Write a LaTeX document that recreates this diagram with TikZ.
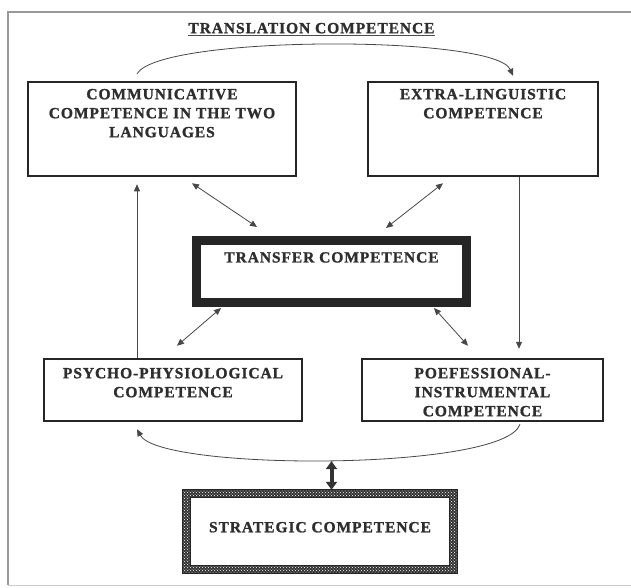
\documentclass[tikz,border=0pt]{standalone}
\usepackage{fontspec}
\newfontfamily\diagfont{Liberation Serif Bold}[LetterSpace=6, FakeBold=1.2]
\usetikzlibrary{arrows.meta,patterns}
\begin{document}
\begin{tikzpicture}[x=1pt,y=-1pt,
  box/.style={draw=black!85, line width=2.5pt, fill=white, inner sep=0pt},
  lbl/.style={inner sep=0pt, align=center, text=black!82, font=\diagfont\fontsize{15.5}{19}\selectfont},
  conn/.style={draw=black!72, line width=0.8pt},
  onetip/.style={-{Triangle[length=7pt,width=6pt]}},
  twotip/.style={{Triangle[length=7pt,width=6pt]}-{Triangle[length=7pt,width=6pt]}},
  framel/.style={draw=black!40, line width=1.2pt}
]
\useasboundingbox (0,0) rectangle (631,587);
% outer frame
\draw[framel] (631,12) -- (8,12) -- (8,585);
\draw[draw=black!20, line width=1pt] (8,585) -- (631,585);

% title
\node[lbl, anchor=base] (title) at (311.5,33.2) {TRANSLATION COMPETENCE};
\draw[black!70, line width=1pt] ([yshift=-2.5pt]title.base west) -- ([yshift=-2.5pt]title.base east);

% boxes
\node[box, minimum width=268pt, minimum height=94pt] (comm) at (162,129) {};
\node[lbl, anchor=north] (commtxt) at ([yshift=-8pt]comm.north) {COMMUNICATIVE\\COMPETENCE IN THE TWO\\LANGUAGES};

\node[box, minimum width=230pt, minimum height=94pt] (extra) at (483,129) {};
\node[lbl, anchor=north] (extratxt) at ([yshift=-8pt]extra.north) {EXTRA-LINGUISTIC\\COMPETENCE};

\node[draw=black!85, line width=9pt, fill=white, inner sep=0pt, minimum width=270pt, minimum height=62pt] (transfer) at (331.5,271.5) {};
\node[lbl, anchor=north] (transfertxt) at ([yshift=-16pt]transfer.north) {TRANSFER COMPETENCE};

\node[box, minimum width=258pt, minimum height=62pt] (psycho) at (173,390) {};
\node[lbl, anchor=north] (psychotxt) at ([yshift=-10pt]psycho.north) {PSYCHO-PHYSIOLOGICAL\\COMPETENCE};

\node[box, minimum width=241pt, minimum height=62pt] (prof) at (482.5,390) {};
\node[lbl, anchor=north] (proftxt) at ([yshift=-10pt]prof.north) {POEFESSIONAL-\\INSTRUMENTAL\\COMPETENCE};

% strategic box with patterned border
\node[inner sep=0pt, minimum width=274pt, minimum height=83pt] (strat) at (320,531.5) {};
\fill[black!80] (strat.south west) rectangle (strat.north east);
\fill[pattern=crosshatch dots, pattern color=white!60] (strat.south west) rectangle (strat.north east);
\draw[black!85, line width=0.8pt] (strat.south west) rectangle (strat.north east);
\draw[black!85, line width=0.8pt, fill=white] ([xshift=8pt,yshift=8pt]strat.south west) rectangle ([xshift=-8pt,yshift=-8pt]strat.north east);
\node[lbl, anchor=north] (strattxt) at ([yshift=-32pt]strat.north) {STRATEGIC COMPETENCE};

% top arc
\draw[conn, onetip] ([xshift=-25pt,yshift=7pt]comm.north) .. controls +(23,-39) and +(-18,-41) .. ([xshift=30pt,yshift=5pt]extra.north);

% diagonal double arrows
\draw[conn, twotip] ([xshift=30pt,yshift=-6pt]comm.south) -- ([xshift=-74.5pt,yshift=9pt]transfer.north);
\draw[conn, twotip] ([xshift=-40pt,yshift=-6pt]extra.south) -- ([xshift=54.5pt,yshift=8pt]transfer.north);
\draw[conn, twotip] ([xshift=-110.5pt,yshift=-1pt]transfer.south) -- ([xshift=4pt,yshift=12pt]psycho.north);
\draw[conn, twotip] ([xshift=102.5pt,yshift=-1pt]transfer.south) -- ([xshift=-14.5pt,yshift=12pt]prof.north);

% vertical arrows
\draw[conn, onetip] ([xshift=-36pt]psycho.north) -- ([xshift=-25pt,yshift=-7pt]comm.south);
\draw[conn, onetip] ([xshift=36pt]extra.south) -- ([xshift=36.5pt,yshift=9pt]prof.north);

% bottom arc
\draw[conn, onetip] ([xshift=37.5pt,yshift=-2pt]prof.south) .. controls +(-15,47) and +(23,42) .. coordinate[pos=0.5] (arcmid) ([xshift=-36pt,yshift=-7pt]psycho.south);

% thick double arrow to strategic competence
\draw[draw=black!80, line width=4pt, {Triangle[length=8pt,width=11pt]}-{Triangle[length=8pt,width=11pt]}] ([yshift=-1pt]arcmid) -- (arcmid |- strat.north);
\end{tikzpicture}
\end{document}
